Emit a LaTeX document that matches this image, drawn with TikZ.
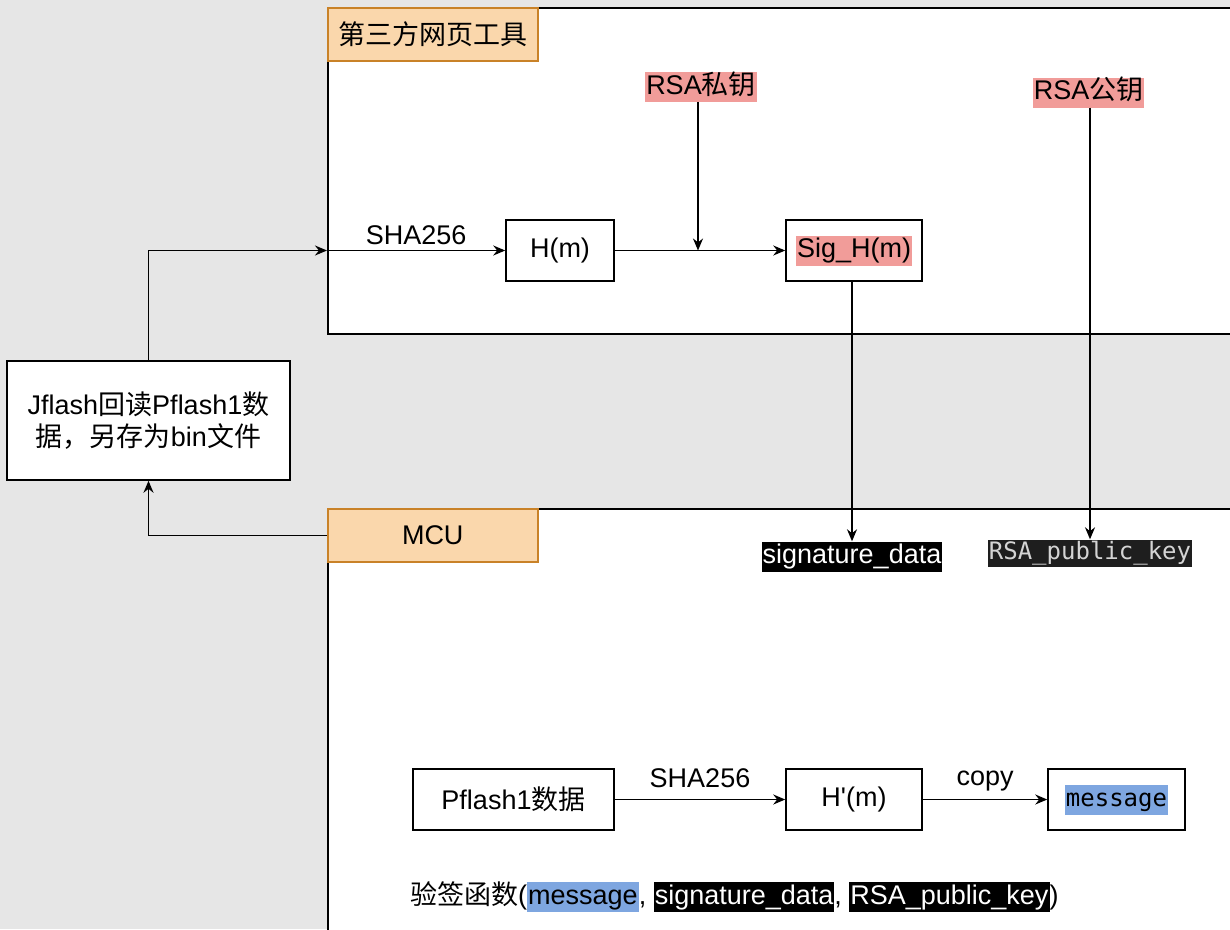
\documentclass[tikz,border=0pt]{standalone}
\usepackage{fontspec}
\setmainfont{Liberation Sans}
\newfontfamily\cjk{Noto Sans CJK SC}
\newfontfamily\keyfont{DejaVu Sans Mono}
\usepackage{xcolor}
\usetikzlibrary{arrows.meta}
\usetikzlibrary{positioning}
\definecolor{canvas}{HTML}{E6E6E6}
\definecolor{tagfill}{HTML}{FAD7AC}
\definecolor{tagline}{HTML}{C98228}
\definecolor{keyred}{HTML}{F19C99}
\definecolor{msgblue}{HTML}{7EA6E0}
\definecolor{codebg}{HTML}{1E1E1E}
\definecolor{codefg}{HTML}{D4D4D4}
\newcommand{\zh}[1]{{\cjk #1}}
\newcommand{\hibox}[3]{{\fboxsep=1pt\colorbox{#1}{\color{#2}\rule[-7pt]{0pt}{28pt}#3}}}
\newcommand{\hicode}[3]{{\keyfont\fontsize{24}{28}\selectfont\fboxsep=1pt\colorbox{#1}{\color{#2}\rule[-7pt]{0pt}{28pt}#3}}}

\begin{document}
\begin{tikzpicture}[x=1pt, y=-1pt,
  every node/.style={font=\fontsize{27}{32}\selectfont},
  box/.style={draw, line width=1.5pt, fill=white, inner sep=0pt, minimum height=61pt},
  panel/.style={draw, line width=1.5pt, fill=white, anchor=north west, minimum width=940pt},
  tag/.style={draw=tagline, fill=tagfill, line width=1.5pt, anchor=north west, inner sep=0pt, minimum width=210pt, minimum height=53pt},
  keylabel/.style={fill=keyred, inner xsep=1pt, inner ysep=1pt, text height=21pt, text depth=7pt},
  link/.style={line width=1.5pt, -{Stealth[length=12pt,width=10pt]}}]
\fill[canvas] (0,0) rectangle (1230,929);
\useasboundingbox (0,0) rectangle (1230,929);
\clip (0,0) rectangle (1230,929);
% panels
\node[panel, minimum height=326pt] (web) at (327,7) {};
\node[tag] (webtag) at (327,7) {\zh{第三方网页工具}};
\node[panel, minimum height=440pt] (mcubox) at (327,508) {};
\node[tag] (mcu) at (327,508) {MCU};
% readback
\node[box, minimum width=283pt, minimum height=119pt, align=center] (jflash) at (148.5,420.5) {Jflash\zh{回读}Pflash1\zh{数}\\\zh{据，另存为}bin\zh{文件}};
% signing
\node[box, minimum width=108pt] (hm) at (560,250.5) {H(m)};
\node[box, minimum width=136pt] (sig) at (854,250.5) {\hibox{keyred}{black}{Sig\_H(m)}};
\node[keylabel] (priv) at (701,87) {RSA\zh{私钥}};
\node[keylabel] (pub) at (1088.5,92.5) {RSA\zh{公钥}};
\coordinate (webin) at (web.west |- hm.west);
\coordinate (privin) at ([xshift=-3pt]priv.south);
\draw[link] (jflash.north) |- (webin);
\draw[link] (webin) -- node[above=5pt, inner sep=0pt] {SHA256} (hm.west);
\draw[link] (hm.east) -- (sig.west);
\draw[link] (privin) -- (privin |- hm.east);
% MCU side
\node[fill=black, text=white, inner sep=1pt, text height=21pt, text depth=7pt] (sigdata) at (852,556.5) {signature\_data};
\node[fill=codebg, text=codefg, font=\keyfont\fontsize{24}{28}\selectfont, inner sep=1pt, text height=19pt, text depth=6pt] (pubkey) at (1090,553) {RSA\_public\_key};
\draw[link] (sig.south -| sigdata.north) -- (sigdata.north);
\draw[link] (pub.south -| pubkey.north) -- (pubkey.north);
\draw[link] (mcu.west) -| (jflash.south);
\node[box, minimum width=201pt] (pflash) at (513.5,799.5) {Pflash1\zh{数据}};
\node[box, minimum width=136pt] (hpm) at (854,799.5) {H\textquotesingle(m)};
\node[box, minimum width=137pt] (msg) at (1116.5,799.5) {\hicode{msgblue}{black}{message}};
\draw[link] (pflash.east) -- node[above=11pt, inner sep=0pt] {SHA256} (hpm.west);
\draw[link] (hpm.east) -- node[above=8pt, inner sep=0pt] {copy} (msg.west);
\node[anchor=west, inner sep=0pt] (verify) at (410,897) {\zh{验签函数}(\hibox{msgblue}{black}{message}, \hibox{black}{white}{signature\_data}, \hibox{black}{white}{RSA\_public\_key})};
\end{tikzpicture}
\end{document}
